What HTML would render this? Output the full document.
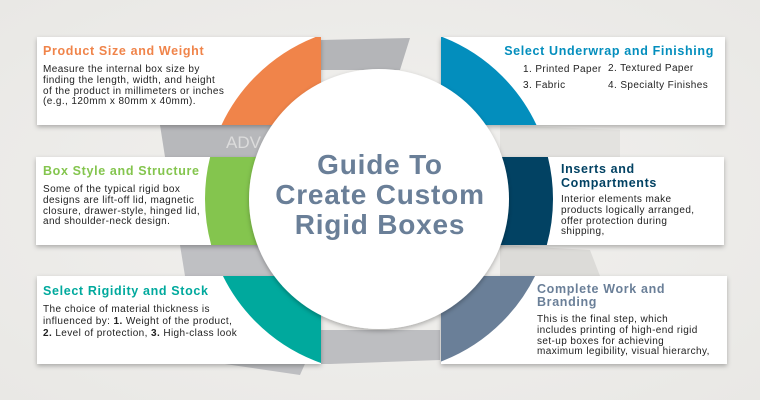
<!DOCTYPE html>
<html><head><meta charset="utf-8"><style>
html,body{margin:0;padding:0;background:#efeeec}
svg{display:block}
text{font-family:"Liberation Sans",sans-serif}
.h{font-weight:bold;font-size:12.5px;letter-spacing:0.65px}
.b{font-size:10px;fill:#222;letter-spacing:0.4px}
</style></head><body>
<svg width="760" height="400" viewBox="0 0 760 400">
<defs>
<radialGradient id="bg" cx="50%" cy="50%" r="70%"><stop offset="0" stop-color="#f2f1ef"/><stop offset="1" stop-color="#e9e8e5"/></radialGradient>
<filter id="sh" x="-10%" y="-10%" width="120%" height="130%"><feDropShadow dx="0" dy="2" stdDeviation="2.5" flood-color="#000" flood-opacity="0.28"/></filter>
<clipPath id="c1"><rect x="37" y="37" width="284" height="88"/></clipPath>
<clipPath id="c2"><rect x="36" y="157" width="285" height="88"/></clipPath>
<clipPath id="c3"><rect x="37" y="276" width="284" height="88"/></clipPath>
<clipPath id="c4"><rect x="441" y="37" width="284" height="88"/></clipPath>
<clipPath id="c5"><rect x="441" y="157" width="283" height="88"/></clipPath>
<clipPath id="c6"><rect x="441" y="276" width="286" height="88"/></clipPath>
</defs>
<rect width="760" height="400" fill="url(#bg)"/>
<polygon points="321,40 410,38 400,70 321,70" fill="#b4b5b8"/>
<polygon points="160,125 330,125 330,157 165,157" fill="#b7b8bb"/>
<text x="226" y="148" font-size="17" fill="#dcdcdc">ADV</text>
<polygon points="180,245 330,245 330,276 185,276" fill="#bfc0c3"/>
<polygon points="225,364 330,364 440,360 440,330 320,330 300,375" fill="#bdbec1"/>
<polygon points="500,245 590,250 600,276 500,276" fill="#dcdbd8"/>
<polygon points="500,125 620,130 620,157 500,157" fill="#e3e2df"/>
<g filter="url(#sh)" fill="#fff">
<rect x="37" y="37" width="284" height="88"/>
<rect x="36" y="157" width="285" height="88"/>
<rect x="37" y="276" width="284" height="88"/>
<rect x="441" y="37" width="284" height="88"/>
<rect x="441" y="157" width="283" height="88"/>
<rect x="441" y="276" width="286" height="88"/>
</g>
<g fill="none" stroke-width="46">
<circle cx="379" cy="199" r="151" stroke="#f0844a" clip-path="url(#c1)"/>
<circle cx="379" cy="199" r="151" stroke="#84c54e" clip-path="url(#c2)"/>
<circle cx="379" cy="199" r="151" stroke="#00a99d" clip-path="url(#c3)"/>
<circle cx="379" cy="199" r="151" stroke="#038ebd" clip-path="url(#c4)"/>
<circle cx="379" cy="199" r="151" stroke="#024263" clip-path="url(#c5)"/>
<circle cx="379" cy="199" r="151" stroke="#6a7f98" clip-path="url(#c6)"/>
</g>
<circle cx="379" cy="199" r="130" fill="#fff" filter="url(#sh)"/>
<g font-weight="bold" font-size="28" fill="#6a7f98" text-anchor="middle" letter-spacing="0.8">
<text x="380" y="174">Guide To</text>
<text x="380" y="204">Create Custom</text>
<text x="380" y="234">Rigid Boxes</text>
</g>
<text class="h" x="43" y="55" fill="#f0844a">Product Size and Weight</text>
<text class="b" x="43" y="72">Measure the internal box size by</text>
<text class="b" x="43" y="83">finding the length, width, and height</text>
<text class="b" x="43" y="94">of the product in millimeters or inches</text>
<text class="b" x="43" y="104">(e.g., 120mm x 80mm x 40mm).</text>

<text class="h" x="43" y="175" fill="#84c54e">Box Style and Structure</text>
<text class="b" x="43" y="192">Some of the typical rigid box</text>
<text class="b" x="43" y="203">designs are lift-off lid, magnetic</text>
<text class="b" x="43" y="214">closure, drawer-style, hinged lid,</text>
<text class="b" x="43" y="224">and shoulder-neck design.</text>

<text class="h" x="43" y="295" fill="#00a99d">Select Rigidity and Stock</text>
<text class="b" x="43" y="312">The choice of material thickness is</text>
<text class="b" x="43" y="324">influenced by: <tspan font-weight="bold">1.</tspan> Weight of the product,</text>
<text class="b" x="43" y="336"><tspan font-weight="bold">2.</tspan> Level of protection, <tspan font-weight="bold">3.</tspan> High-class look</text>

<text class="h" x="714" y="55" fill="#038ebd" text-anchor="end">Select Underwrap and Finishing</text>
<text class="b" x="523" y="72">1. Printed Paper</text>
<text class="b" x="608" y="71">2. Textured Paper</text>
<text class="b" x="523" y="88">3. Fabric</text>
<text class="b" x="608" y="88">4. Specialty Finishes</text>

<text class="h" x="561" y="173" fill="#024263">Inserts and</text>
<text class="h" x="561" y="187" fill="#024263">Compartments</text>
<text class="b" x="561" y="202">Interior elements make</text>
<text class="b" x="561" y="213">products logically arranged,</text>
<text class="b" x="561" y="224">offer protection during</text>
<text class="b" x="561" y="234">shipping,</text>

<text class="h" x="537" y="293" fill="#6a7f98">Complete Work and</text>
<text class="h" x="537" y="306" fill="#6a7f98">Branding</text>
<text class="b" x="537" y="322">This is the final step, which</text>
<text class="b" x="537" y="333">includes printing of high-end rigid</text>
<text class="b" x="537" y="344">set-up boxes for achieving</text>
<text class="b" x="537" y="354">maximum legibility, visual hierarchy,</text>
</svg>
</body></html>
